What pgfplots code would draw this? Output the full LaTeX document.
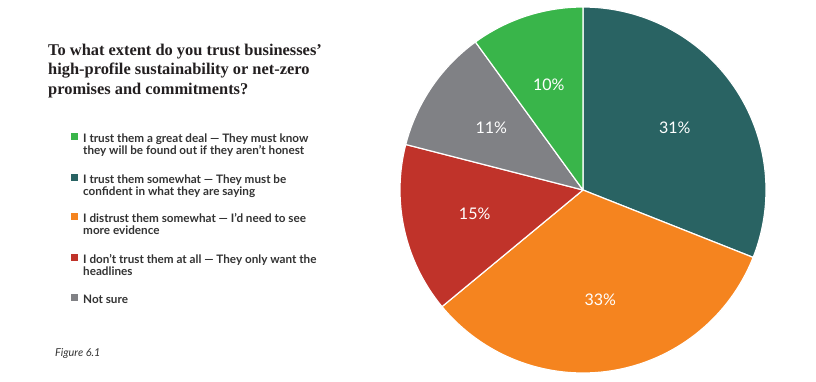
\documentclass[border=0pt]{standalone}
\usepackage{pgfplots}
\pgfplotsset{compat=1.18}
\usepackage{fontspec}
\setmainfont{Lato}
\newfontfamily\titlefont{Liberation Serif}
\newfontfamily\labfont{Lato}
\definecolor{cTeal}{HTML}{296363}
\definecolor{cOrange}{HTML}{F5841F}
\definecolor{cRed}{HTML}{C0332A}
\definecolor{cGray}{HTML}{808185}
\definecolor{cGreen}{HTML}{39B54A}
\definecolor{cTitle}{HTML}{231F20}
\definecolor{cText}{HTML}{333333}
% data (percent)
\def\vTeal{31}
\def\vOrange{33}
\def\vRed{15}
\def\vGray{11}
\def\vGreen{10}
\pgfmathsetmacro\sA{90}
\pgfmathsetmacro\sB{\sA-3.6*\vTeal}
\pgfmathsetmacro\sC{\sB-3.6*\vOrange}
\pgfmathsetmacro\sD{\sC-3.6*\vRed}
\pgfmathsetmacro\sE{\sD-3.6*\vGray}
\pgfmathsetmacro\sF{\sE-3.6*\vGreen}
\pgfmathsetmacro\mA{(\sA+\sB)/2}
\pgfmathsetmacro\mB{(\sB+\sC)/2}
\pgfmathsetmacro\mC{(\sC+\sD)/2}
\pgfmathsetmacro\mD{(\sD+\sE)/2}
\pgfmathsetmacro\mE{(\sE+\sF)/2}
\def\R{183}
\def\L{111}
\begin{document}
\begin{tikzpicture}
\useasboundingbox (0,0) rectangle (816pt,381pt);
\fill[white] (0,0) rectangle (816pt,381pt);
\begin{axis}[at={(583pt,191pt)}, anchor=center, x=1pt, y=1pt,
  xmin=-183, xmax=183, ymin=-183, ymax=183, hide axis, clip=false,
  every axis plot/.append style={draw=white, line width=1.2pt, line join=round, samples=90, variable=\t}]
\addplot[fill=cTeal, domain=\sB:\sA] ({\R*cos(\t)},{\R*sin(\t)}) -- (0,0) -- cycle;
\addplot[fill=cOrange, domain=\sC:\sB] ({\R*cos(\t)},{\R*sin(\t)}) -- (0,0) -- cycle;
\addplot[fill=cRed, domain=\sD:\sC] ({\R*cos(\t)},{\R*sin(\t)}) -- (0,0) -- cycle;
\addplot[fill=cGray, domain=\sE:\sD] ({\R*cos(\t)},{\R*sin(\t)}) -- (0,0) -- cycle;
\addplot[fill=cGreen, domain=\sF:\sE] ({\R*cos(\t)},{\R*sin(\t)}) -- (0,0) -- cycle;
\node[white, font=\labfont\fontsize{16}{18}\selectfont] at ({\L*cos(\mA)},{\L*sin(\mA)}) {\vTeal\%};
\node[white, font=\labfont\fontsize{16}{18}\selectfont] at ({\L*cos(\mB)},{\L*sin(\mB)}) {\vOrange\%};
\node[white, font=\labfont\fontsize{16}{18}\selectfont] at ({\L*cos(\mC)},{\L*sin(\mC)}) {\vRed\%};
\node[white, font=\labfont\fontsize{16}{18}\selectfont] at ({\L*cos(\mD)},{\L*sin(\mD)}) {\vGray\%};
\node[white, font=\labfont\fontsize{16}{18}\selectfont] at ({\L*cos(\mE)},{\L*sin(\mE)}) {\vGreen\%};
\end{axis}
% title
\begin{scope}[every node/.style={anchor=base west, inner sep=0pt, text=cTitle, font=\titlefont\bfseries\fontsize{16.4}{19}\selectfont}]
\node at (48pt,{381pt-56pt}) {To what extent do you trust businesses’};
\node at (48pt,{381pt-75pt}) {high-profile sustainability or net-zero};
\node at (48pt,{381pt-94pt}) {promises and commitments?};
\end{scope}
% legend
\begin{scope}[every node/.style={anchor=base west, inner sep=0pt, text=cText, font=\bfseries\fontsize{11.7}{13}\selectfont}]
\fill[cGreen] (71pt,{381pt-140pt}) rectangle (78pt,{381pt-133pt});
\node at (83pt,{381pt-142pt}) {I trust them a great deal — They must know};
\node at (83pt,{381pt-154.5pt}) {they will be found out if they aren’t honest};
\fill[cTeal] (71pt,{381pt-181pt}) rectangle (78pt,{381pt-174pt});
\node at (83pt,{381pt-183pt}) {I trust them somewhat — They must be};
\node at (83pt,{381pt-195.5pt}) {confident in what they are saying};
\fill[cOrange] (71pt,{381pt-220pt}) rectangle (78pt,{381pt-213pt});
\node at (83pt,{381pt-222pt}) {I distrust them somewhat — I’d need to see};
\node at (83pt,{381pt-234.5pt}) {more evidence};
\fill[cRed] (71pt,{381pt-261pt}) rectangle (78pt,{381pt-254pt});
\node at (83pt,{381pt-263pt}) {I don’t trust them at all — They only want the};
\node at (83pt,{381pt-275.5pt}) {headlines};
\fill[cGray] (71pt,{381pt-301pt}) rectangle (78pt,{381pt-294pt});
\node at (83pt,{381pt-303pt}) {Not sure};
\end{scope}
\node[anchor=base west, inner sep=0pt, text=cText, font=\itshape\fontsize{10.9}{12}\selectfont] at (55pt,{381pt-356pt}) {Figure 6.1};
\end{tikzpicture}
\end{document}
